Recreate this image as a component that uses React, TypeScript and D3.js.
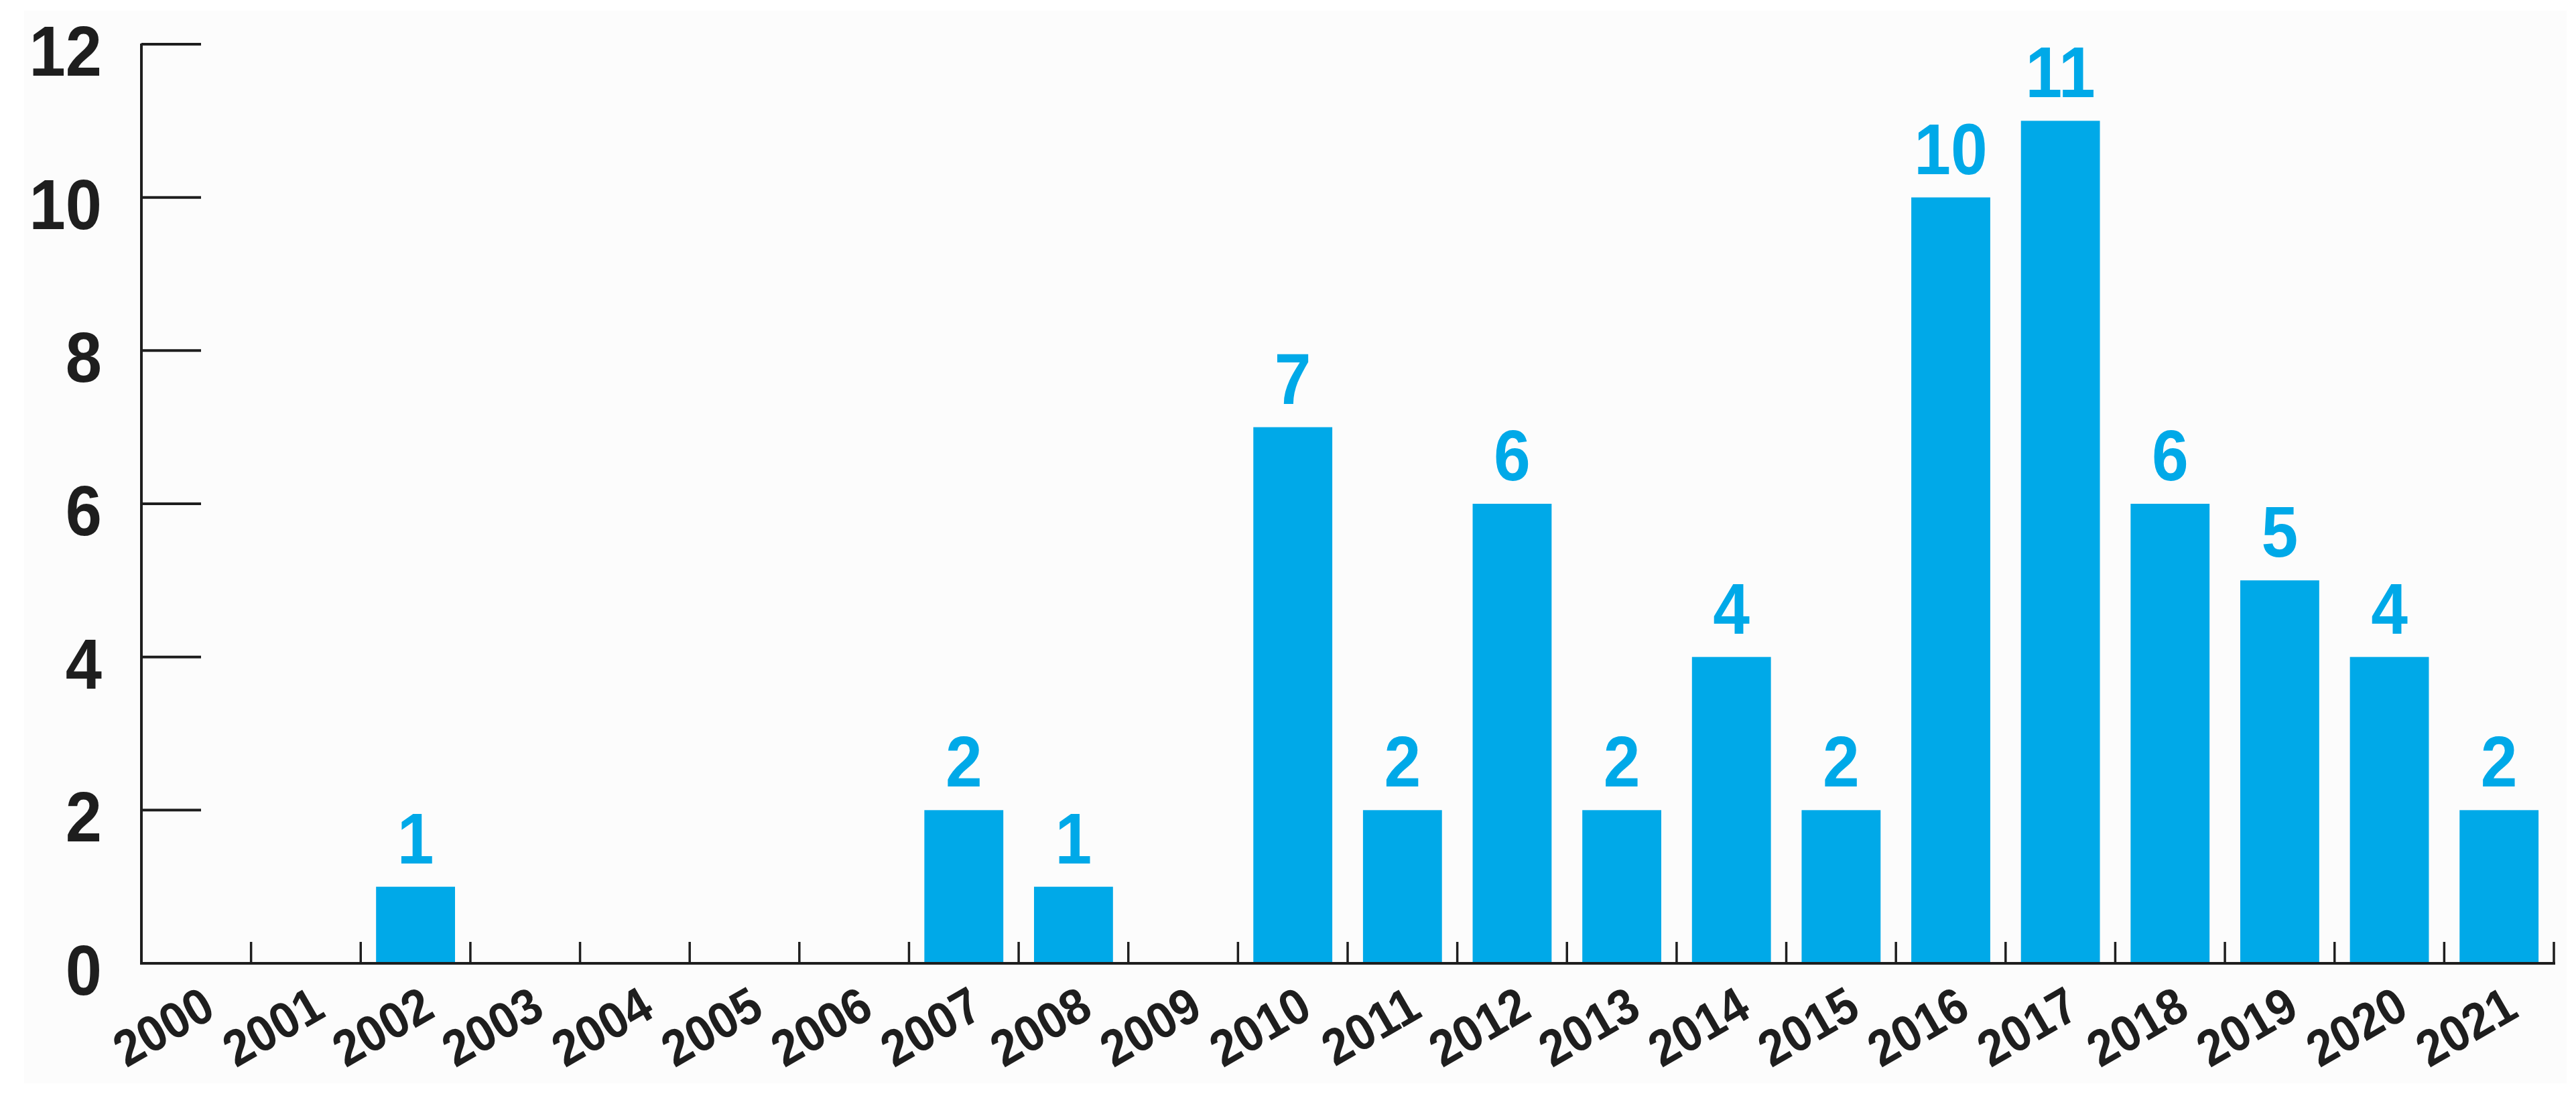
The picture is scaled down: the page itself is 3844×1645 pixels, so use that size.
import React from "react";
import * as d3 from "d3";

const years: string[] = [
  "2000", "2001", "2002", "2003", "2004", "2005", "2006", "2007", "2008", "2009", "2010",
  "2011", "2012", "2013", "2014", "2015", "2016", "2017", "2018", "2019", "2020", "2021",
];
const counts: number[] = [0, 0, 1, 0, 0, 0, 0, 2, 1, 0, 7, 2, 6, 2, 4, 2, 10, 11, 6, 5, 4, 2];
const yTicks: number[] = [0, 2, 4, 6, 8, 10, 12];

const W = 3844;
const H = 1645;
const X0 = 211;
const X1 = 3811;
const Y0 = 1438;
const Y1 = 66;
const BLUE = "#00A9E8";
const INK = "#1e1e1e";
const FONT = "'Liberation Sans', Arial, sans-serif";

export default function App() {
  const x = d3.scaleBand<string>().domain(years).range([X0, X1]).padding(0);
  const y = d3.scaleLinear().domain([0, 12]).range([Y0, Y1]);
  const bw = x.bandwidth();
  const barW = bw * 0.72;
  const boundaries = d3.range(1, years.length + 1).map((k) => X0 + k * bw);

  return (
    <svg
      width={W}
      height={H}
      style={{ position: "absolute", left: 0, top: 0, background: "#ffffff" }}
      fontFamily={FONT}
    >
      <rect x={36} y={16} width={3794} height={1601} fill="#fcfcfc" />
      {/* bars */}
      {years.map((yr, i) =>
        counts[i] > 0 ? (
          <rect
            key={yr}
            x={(x(yr) as number) + (bw - barW) / 2}
            y={y(counts[i])}
            width={barW}
            height={y(0) - y(counts[i])}
            fill={BLUE}
          />
        ) : null
      )}
      {/* value labels */}
      {years.map((yr, i) =>
        counts[i] > 0 ? (
          <text
            key={"v" + yr}
            transform={`translate(${(x(yr) as number) + bw / 2},${y(counts[i]) - 35}) scale(0.92,1)`}
            textAnchor="middle"
            fontSize={107}
            fontWeight="bold"
            fill={BLUE}
          >
            {counts[i]}
          </text>
        ) : null
      )}
      {/* y axis */}
      <line x1={X0} x2={X0} y1={Y1 - 1} y2={Y0 + 2} stroke={INK} strokeWidth={4} />
      {yTicks.map((t) => (
        <g key={"y" + t}>
          {t > 0 && (
            <line x1={X0} x2={X0 + 89} y1={y(t)} y2={y(t)} stroke={INK} strokeWidth={4} />
          )}
          <text
            transform={`translate(152,${y(t) + 47}) scale(0.92,1)`}
            textAnchor="end"
            fontSize={106}
            fontWeight="bold"
            fill={INK}
          >
            {t}
          </text>
        </g>
      ))}
      {/* x axis */}
      <line x1={X0 - 2} x2={X1 + 2} y1={Y0} y2={Y0} stroke={INK} strokeWidth={4} />
      {boundaries.map((bx, k) => (
        <line key={"t" + k} x1={bx} x2={bx} y1={Y0} y2={Y0 - 32} stroke={INK} strokeWidth={3.5} />
      ))}
      {years.map((yr) => {
        const cx = (x(yr) as number) + bw / 2 + 32;
        const cy = Y0 + 78;
        return (
          <text
            key={"xl" + yr}
            transform={`translate(${cx},${cy}) rotate(-30) scale(0.93,1)`}
            textAnchor="end"
            fontSize={76}
            fontWeight="bold"
            fill={INK}
          >
            {yr}
          </text>
        );
      })}
    </svg>
  );
}
